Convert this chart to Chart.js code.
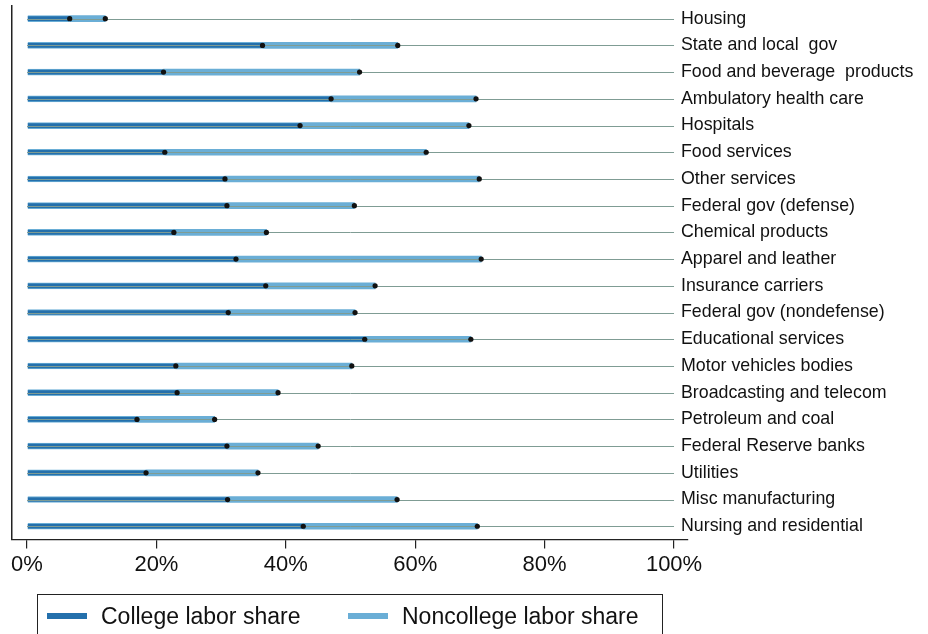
<!DOCTYPE html>
<html>
<head>
<meta charset="utf-8">
<script src="https://cdn.jsdelivr.net/npm/chart.js@4/dist/chart.umd.min.js"></script>
<style>
  body { margin: 0; background: #fff; }
  #wrap { position: relative; width: 928px; height: 634px; overflow: hidden; }
  #legend {
    position: absolute; left: 37px; top: 594px; width: 626px; height: 60px;
    border: 1.5px solid #222; box-sizing: border-box;
    font-family: "Liberation Sans", Arial, sans-serif; font-size: 23px; color: #111;
  }
  .item { position: absolute; top: 7px; height: 28px; line-height: 28px; white-space: nowrap; }
  .swatch { position: absolute; top: 11px; width: 40px; height: 6px; }
  .item span { position: absolute; left: 54px; }
</style>
</head>
<body>
<div id="wrap">
  <canvas id="chart" width="928" height="634"></canvas>
  <div id="legend">
    <div class="item" style="left:9px"><div class="swatch" style="background:#2470ac"></div><span>College labor share</span></div>
    <div class="item" style="left:310px"><div class="swatch" style="background:#6aaed6"></div><span>Noncollege labor share</span></div>
  </div>
</div>
<script>
var industries = [
  'Housing', 'State and local  gov', 'Food and beverage  products', 'Ambulatory health care',
  'Hospitals', 'Food services', 'Other services', 'Federal gov (defense)', 'Chemical products',
  'Apparel and leather', 'Insurance carriers', 'Federal gov (nondefense)', 'Educational services',
  'Motor vehicles bodies', 'Broadcasting and telecom', 'Petroleum and coal', 'Federal Reserve banks',
  'Utilities', 'Misc manufacturing', 'Nursing and residential'
];
// labor shares in percent of value added
var collegeShare = [6.6, 36.4, 21.1, 47.0, 42.2, 21.3, 30.6, 30.9, 22.7, 32.3,
                    36.9, 31.1, 52.2, 23.0, 23.2, 17.0, 30.9, 18.4, 31.0, 42.7];
var noncollegeShare = [5.5, 20.9, 30.3, 22.4, 26.1, 40.4, 39.3, 19.7, 14.3, 37.9,
                       16.9, 19.6, 16.4, 27.2, 15.6, 12.0, 14.1, 17.3, 26.2, 26.9];
var xTicks = [0, 20, 40, 60, 80, 100];

var darkBlue = '#2470ac';
var lightBlue = '#6aaed6';

// thin guide line across each row, then a dot at the end of each segment
var rowMarks = {
  id: 'rowMarks',
  afterLayout: function (chart) {
    // pull the industry labels a little closer to the plot
    chart.scales.y.left = chart.chartArea.right - 7;
  },
  afterDatasetsDraw: function (chart) {
    var ctx = chart.ctx;
    var x = chart.scales.x;
    var x0 = x.getPixelForValue(0);
    var x1 = x.getPixelForValue(100);
    var first = chart.getDatasetMeta(0);
    ctx.save();
    ctx.strokeStyle = '#7f9c94';
    ctx.lineWidth = 1;
    first.data.forEach(function (bar) {
      var y = Math.round(bar.y) + 0.5;
      ctx.beginPath();
      ctx.moveTo(x0, y);
      ctx.lineTo(x1, y);
      ctx.stroke();
    });
    ctx.fillStyle = '#111';
    chart.data.datasets.forEach(function (ds, i) {
      chart.getDatasetMeta(i).data.forEach(function (bar) {
        ctx.beginPath();
        ctx.arc(bar.x, bar.y, 2.6, 0, Math.PI * 2);
        ctx.fill();
      });
    });
    ctx.restore();
  }
};

new Chart(document.getElementById('chart'), {
  type: 'bar',
  data: {
    labels: industries,
    datasets: [{
      label: 'College labor share',
      data: collegeShare,
      backgroundColor: darkBlue,
      borderColor: lightBlue,
      borderWidth: { top: 1, bottom: 1, left: 0, right: 0 },
      borderSkipped: false,
      barThickness: 6
    }, {
      label: 'Noncollege labor share',
      data: noncollegeShare,
      backgroundColor: lightBlue,
      borderWidth: 0,
      barThickness: 6
    }]
  },
  options: {
    indexAxis: 'y',
    responsive: false,
    animation: false,
    devicePixelRatio: 1,
    layout: { padding: { top: 5, left: 12, right: 5, bottom: 53 } },
    plugins: { legend: { display: false }, tooltip: { enabled: false } },
    scales: {
      x: {
        type: 'linear',
        stacked: true,
        min: -2.32,
        max: 102.16,
        afterBuildTicks: function (scale) {
          scale.ticks = xTicks.map(function (v) { return { value: v }; });
        },
        ticks: {
          callback: function (v) { return v + '%'; },
          font: { family: 'Liberation Sans', size: 22 },
          color: '#111',
          padding: 3,
          maxRotation: 0
        },
        grid: { drawOnChartArea: false, drawTicks: true, tickLength: 9, color: '#222', lineWidth: 1.2 },
        border: { display: true, color: '#222', width: 1.2 }
      },
      y: {
        stacked: true,
        position: 'right',
        afterFit: function (scale) { scale.width = 235; },
        ticks: {
          font: { family: 'Liberation Sans', size: 17.8, lineHeight: 0.6 },
          color: '#111',
          padding: 0,
          autoSkip: false
        },
        grid: { display: false, drawTicks: false },
        border: { display: false }
      },
      yl: {
        type: 'category',
        position: 'left',
        ticks: { display: false },
        grid: { display: false, drawTicks: false },
        border: { display: true, color: '#222', width: 1.5 }
      }
    }
  },
  plugins: [rowMarks]
});
</script>
</body>
</html>
